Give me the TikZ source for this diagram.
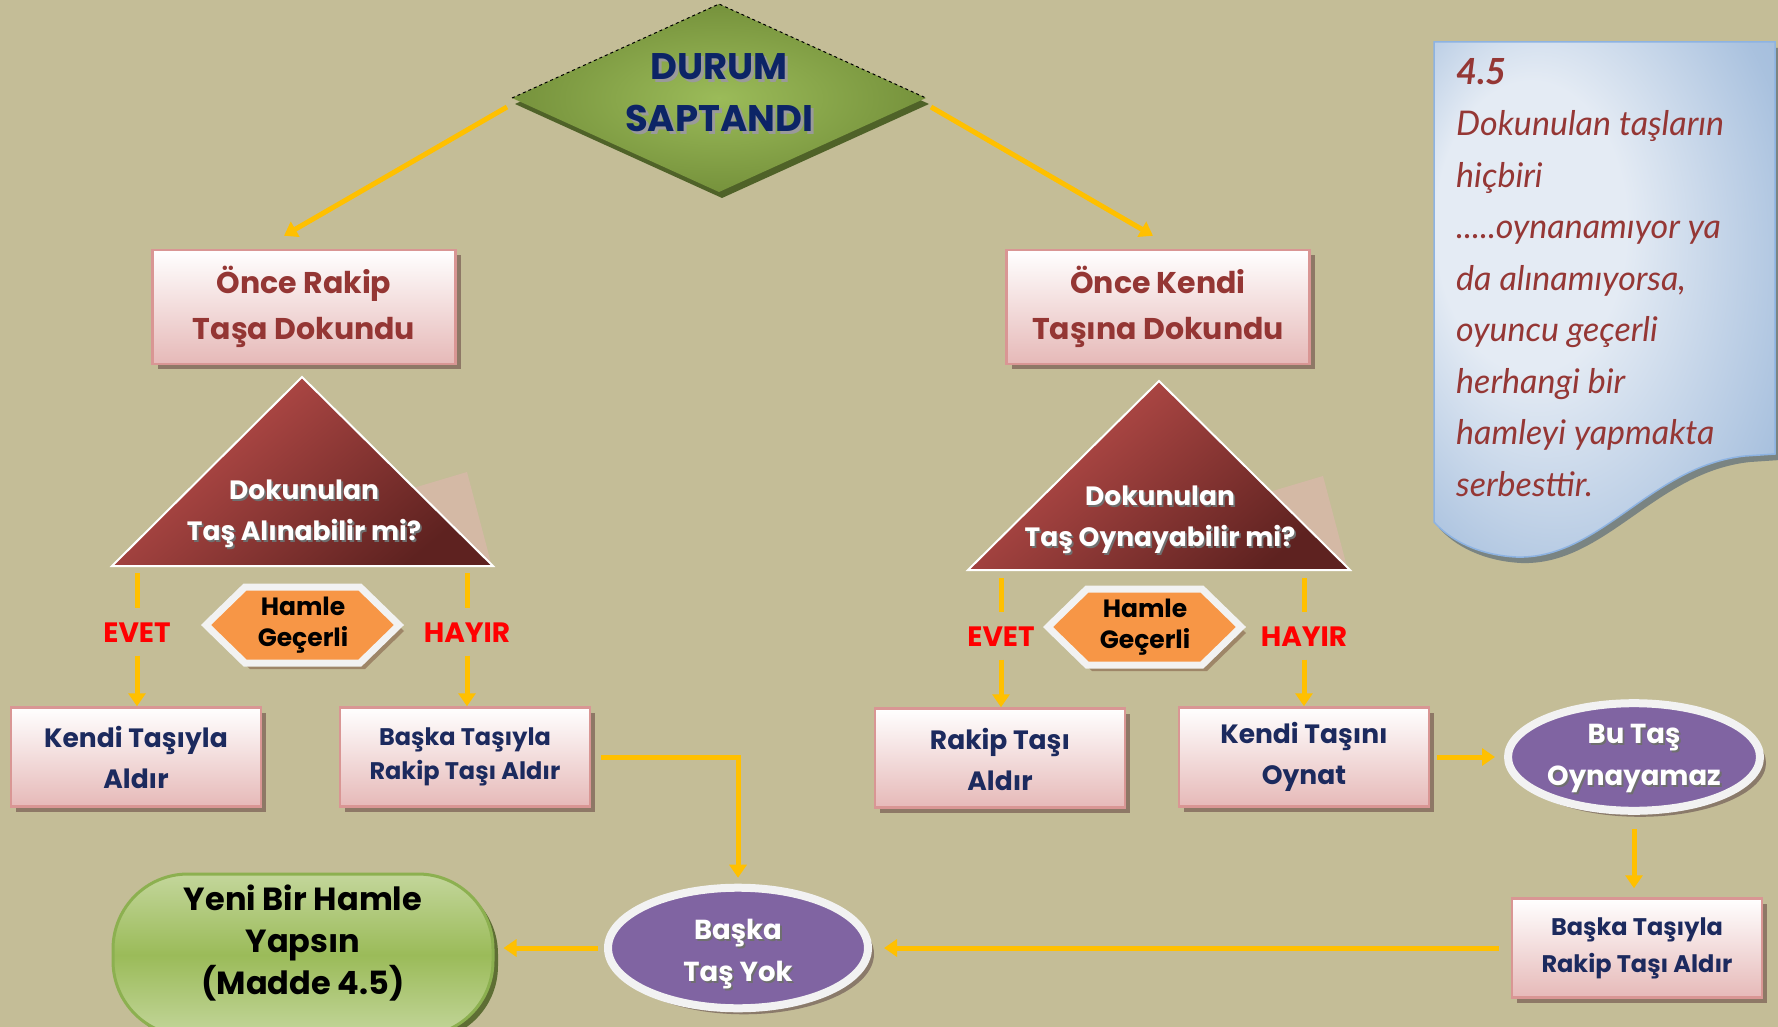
\documentclass[tikz,border=0pt]{standalone}
\usepackage{fontspec}
\setmainfont{Poppins}
\newfontfamily\notefont{Lato}
\usetikzlibrary{arrows.meta,shadows,shapes.geometric,calc}
\definecolor{bg}{HTML}{C4BD97}
\definecolor{arrowc}{HTML}{FFC000}
\definecolor{diaIn}{HTML}{9BBB59}
\definecolor{diaOut}{HTML}{76923C}
\definecolor{diaSh}{HTML}{4F6228}
\definecolor{diaTxt}{HTML}{0C2466}
\definecolor{diaTsh}{HTML}{9A9A9A}
\definecolor{pinkBot}{HTML}{E6B9B8}
\definecolor{pinkBd}{HTML}{D99694}
\definecolor{boxSh}{HTML}{8E7866}
\definecolor{redTxt}{HTML}{943634}
\definecolor{navyTxt}{HTML}{1C2A5E}
\definecolor{triA}{HTML}{C0504D}
\definecolor{triB}{HTML}{5E2220}
\definecolor{wedgec}{HTML}{D4B9A5}
\definecolor{hexFill}{HTML}{F79646}
\definecolor{hexBd}{HTML}{F2F2F2}
\definecolor{hexSh}{HTML}{9E8668}
\definecolor{purp}{HTML}{8064A2}
\definecolor{ellSh}{HTML}{8A7A6A}
\definecolor{grTop}{HTML}{C3D69B}
\definecolor{grMid}{HTML}{9BBB59}
\definecolor{grBd}{HTML}{8CB050}
\definecolor{grSh}{HTML}{5E6E34}
\definecolor{noteIn}{HTML}{E4EBF4}
\definecolor{noteOut}{HTML}{95B3D7}
\definecolor{noteBd}{HTML}{8DB3E2}
\definecolor{noteSh}{HTML}{7A8482}
\definecolor{noteTxt}{HTML}{953735}
\definecolor{wtSh}{HTML}{6F6F6F}
\pgfdeclareradialshading{notesh}{\pgfpoint{-15bp}{10bp}}{color(0bp)=(noteIn); color(14bp)=(noteIn); color(34bp)=(noteOut!75!noteIn); color(50bp)=(noteOut)}
\newcommand\tsh[3][1.8pt]{\leavevmode\rlap{\kern#1\raisebox{-#1}{\color{#2}#3}}#3}
\begin{document}
\begin{tikzpicture}[x=1pt,y=-1pt,
  arr/.style={draw=arrowc, line width=5pt, -{Triangle[width=17pt,length=13pt]}},
  ln/.style={draw=arrowc, line width=5pt},
  pinkbox/.style={rectangle, draw=pinkBd, line width=2.5pt, top color=white, bottom color=pinkBot,
    minimum width=250pt, minimum height=99pt, inner sep=0pt, align=center,
    drop shadow={shadow xshift=5pt, shadow yshift=-5pt, fill=boxSh, opacity=1}},
  toptxt/.style={text=redTxt, font=\bfseries\fontsize{30}{46}\selectfont},
  bottxt/.style={text=navyTxt, font=\bfseries\fontsize{26.5}{41}\selectfont},
  smalltxt/.style={text=navyTxt, font=\bfseries\fontsize{24}{34}\selectfont},
  tritxt/.style={text=white, align=center, font=\bfseries\fontsize{26.5}{41}\selectfont},
  hextxt/.style={text=black, align=center, font=\bfseries\fontsize{25}{31}\selectfont},
  yesno/.style={text=red, font=\bfseries\fontsize{28}{30}\selectfont, text height=20pt, text depth=0pt, inner ysep=13.5pt},
  ell/.style={ellipse, draw=hexBd, line width=8pt, fill=purp, inner sep=0pt, align=center, text=white,
    font=\bfseries\fontsize{27.5}{42}\selectfont,
    drop shadow={shadow xshift=6pt, shadow yshift=-6pt, fill=ellSh, opacity=1}},
  yeni/.style={rectangle, rounded corners=75pt, draw=grBd, line width=3pt, top color=grTop, bottom color=grTop,
    middle color=grMid, minimum width=380pt, minimum height=162pt,
    drop shadow={shadow xshift=5pt, shadow yshift=-5pt, fill=grSh, opacity=1}},
  yenitxt/.style={text=black, align=center, font=\bfseries\fontsize{32}{42}\selectfont},
  notetxt/.style={text=noteTxt, align=left, inner sep=0pt, font=\notefont\itshape\fontsize{34}{51.5}\selectfont}
]
\useasboundingbox (0,0) rectangle (1778,1027);
\fill[bg] (0,0) rectangle (1778,1027);

% ---------- note ----------
\fill[noteSh] (1439,48) -- (1780,48) -- (1780,460) -- (1750,462) .. controls (1655,472) and (1605,566) .. (1521,563) .. controls (1483,561) and (1455,546) .. (1439,528) -- cycle;
\path[shading=notesh, draw=noteBd, line width=1.5pt] (1434,42) -- (1775,42) -- (1775,454) -- (1745,456) .. controls (1650,466) and (1600,560) .. (1516,557) .. controls (1478,555) and (1450,540) .. (1434,522) -- cycle;
\node[notetxt, anchor=north west] (note) at (1456,58) {{\bfseries\fontsize{36}{51.5}\selectfont 4.5}\\Dokunulan taşların\\hiçbiri\\.....oynanamıyor ya\\da alınamıyorsa,\\oyuncu geçerli\\herhangi bir\\hamleyi yapmakta\\serbesttir.};

% ---------- diamond ----------
\fill[diaSh] (515,104) -- (722,10) -- (929,104) -- (722,198) -- cycle;
\shade[inner color=diaIn, outer color=diaOut] (512,98) -- (719,4) -- (926,98) -- (719,192) -- cycle;
\draw[black, line width=1pt, dash pattern=on 3pt off 3pt] (512,98) -- (719,4) -- (926,98);
\node[text=diaTxt, align=center, font=\bfseries\fontsize{37}{52}\selectfont] (dia) at (719,94)
  {\tsh[3pt]{diaTsh}{DURUM}\\\tsh[3pt]{diaTsh}{SAPTANDI}};
\coordinate (diaW) at (507,107);
\coordinate (diaE) at (931,107);

% ---------- top boxes ----------
\node[pinkbox, minimum width=303pt, minimum height=114pt, toptxt] (r1) at (304,307) {Önce Rakip\\Taşa Dokundu};
\node[pinkbox, minimum width=303pt, minimum height=114pt, toptxt] (r2) at (1158,307) {Önce Kendi\\Taşına Dokundu};
\coordinate (r1tip) at ($(r1.north)+(-20,-13)$);
\coordinate (r2tip) at ($(r2.north)+(-5,-13)$);
\draw[arr] (diaW) -- (r1tip);
\draw[arr] (diaE) -- (r2tip);

% ---------- triangles ----------
\fill[wedgec] (400,492) -- (467,472) -- (491,563) -- cycle;
\shade[draw=white, line width=2pt, top color=triA, bottom color=triB, shading angle=40]
  (302,377) -- (493,566) -- (112,566) -- cycle;
\node[tritxt] (q1) at (304,515) {\tsh{wtSh}{Dokunulan}\\\tsh{wtSh}{Taş Alınabilir mi?}};
\fill[wedgec] (1256,496) -- (1323,476) -- (1347,567) -- cycle;
\shade[draw=white, line width=2pt, top color=triA, bottom color=triB, shading angle=40]
  (1159,381) -- (1350,570) -- (968,570) -- cycle;
\node[tritxt] (q2) at (1160,521) {\tsh{wtSh}{Dokunulan}\\\tsh{wtSh}{Taş Oynayabilir mi?}};

% ---------- hexagons ----------
\fill[hexSh] (211,631) -- (250,593) -- (365,593) -- (404,631) -- (365,669) -- (250,669) -- cycle;
\draw[fill=hexFill, draw=hexBd, line width=7pt, line join=miter] (206,625) -- (245,587) -- (360,587) -- (399,625) -- (360,663) -- (245,663) -- cycle;
\node[hextxt] (hx1) at (303,625) {Hamle\\Geçerli};
\fill[hexSh] (1053,633) -- (1092,595) -- (1207,595) -- (1246,633) -- (1207,671) -- (1092,671) -- cycle;
\draw[fill=hexFill, draw=hexBd, line width=7pt, line join=miter] (1048,627) -- (1087,589) -- (1202,589) -- (1241,627) -- (1202,665) -- (1087,665) -- cycle;
\node[hextxt] (hx2) at (1145,627) {Hamle\\Geçerli};

% ---------- row of boxes ----------
\node[pinkbox, bottxt] (k1) at (136,757) {Kendi Taşıyla\\Aldır};
\node[pinkbox, smalltxt] (b1) at (465,757) {Başka Taşıyla\\Rakip Taşı Aldır};
\node[pinkbox, bottxt] (k2) at (1000,758) {\rule{0pt}{24pt}Rakip Taşı\\Aldır};
\node[pinkbox, bottxt] (k3) at (1304,757) {Kendi Taşını\\Oynat};
\node[ell, minimum width=252pt, minimum height=106pt] (e3) at (1634,757) {\rule{0pt}{25pt}\tsh{wtSh}{Bu Taş}\\\tsh{wtSh}{Oynayamaz}};
\node[pinkbox, smalltxt, font=\bfseries\fontsize{24}{37}\selectfont] (b2) at (1637,948) {Başka Taşıyla\\Rakip Taşı Aldır};
\node[ell, minimum width=260pt, minimum height=110pt] (e4) at (738,948) {\rule{0pt}{34pt}\tsh{wtSh}{Başka}\\\tsh{wtSh}{Taş Yok}};
\node[yeni] (y1) at (303,955) {};
\node[yenitxt] (y1t) at (303,943) {Yeni Bir Hamle\\Yapsın\\(Madde 4.5)};

% ---------- EVET / HAYIR ----------
\coordinate (t1a) at (137,573);
\coordinate (t1b) at (467,573);
\coordinate (t2a) at (1001,578);
\coordinate (t2b) at (1304,578);
\node[yesno] (ev1) at (137,632) {EVET};
\node[yesno] (hy1) at (467,632) {HAYIR};
\node[yesno] (ev2) at (1001,636) {EVET};
\node[yesno] (hy2) at (1304,636) {HAYIR};
\draw[ln] (t1a) -- (ev1.north);
\draw[arr] (ev1.south) -- (ev1.south |- k1.north);
\draw[ln] (t1b) -- (hy1.north);
\draw[arr] (hy1.south) -- (hy1.south |- b1.north);
\draw[ln] (t2a) -- (ev2.north);
\draw[arr] (ev2.south) -- (ev2.south |- k2.north);
\draw[ln] (t2b) -- (hy2.north);
\draw[arr] (hy2.south) -- (hy2.south |- k3.north);

% ---------- lower connectors ----------
\draw[arr, shorten <=10pt, shorten >=6pt] (b1.east) -| (e4.north);
\draw[arr, shorten <=6pt, shorten >=9pt] (e4.west) -- (e4.west -| y1.east);
\draw[arr, shorten <=12pt, shorten >=12pt] (b2.west) -- (e4.east);
\draw[arr, shorten <=7pt, shorten >=9pt] (k3.east) -- (e3.west);
\draw[arr, shorten <=14pt, shorten >=9pt] (e3.south) -- (e3.south |- b2.north);
\end{tikzpicture}
\end{document}
